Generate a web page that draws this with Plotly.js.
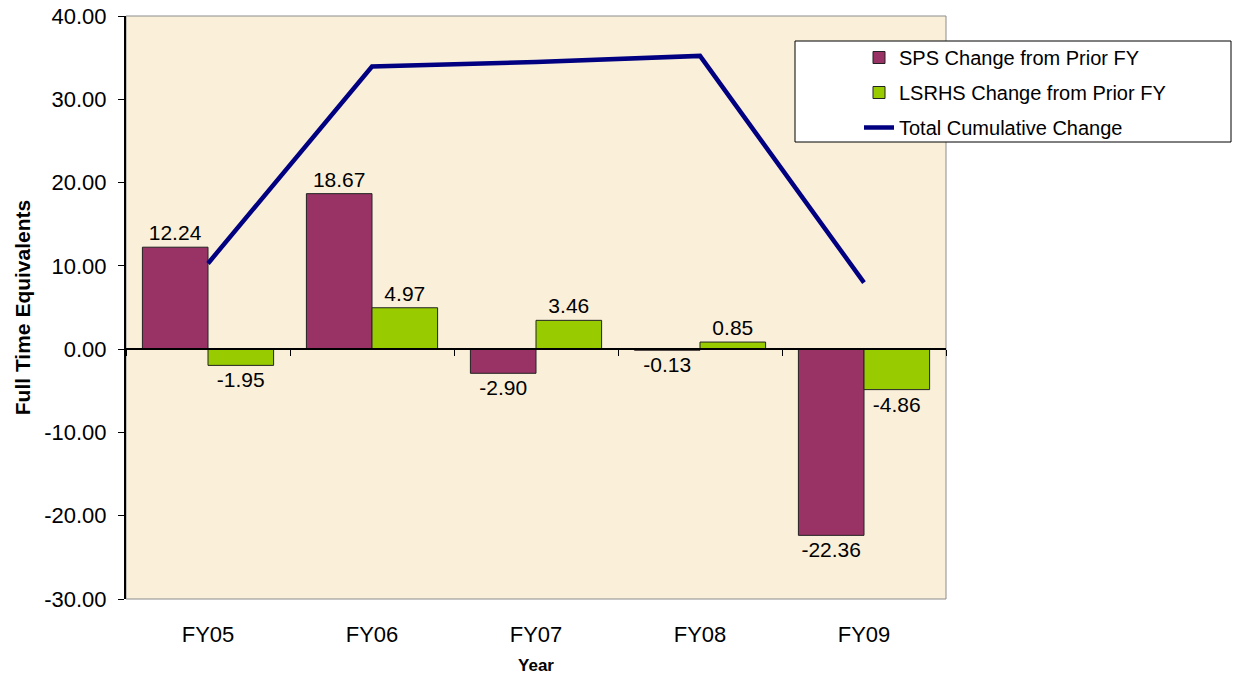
<!DOCTYPE html>
<html>
<head>
<meta charset="utf-8">
<script src="https://cdn.plot.ly/plotly-3.0.1.min.js"></script>
<style>html,body{margin:0;padding:0;background:#fff;}#chart{width:1233px;height:675px;}</style>
</head>
<body>
<div id="chart"></div>
<script>
const years = ["FY05", "FY06", "FY07", "FY08", "FY09"];
const spsChange = [12.24, 18.67, -2.90, -0.13, -22.36];
const lsrhsChange = [-1.95, 4.97, 3.46, 0.85, -4.86];
const cumulativeChange = [10.29, 33.93, 34.49, 35.21, 7.99];
const seriesNames = ["SPS Change from Prior FY", "LSRHS Change from Prior FY", "Total Cumulative Change"];
const yTickValues = [-30, -20, -10, 0, 10, 20, 30, 40];
const yTickLabels = ["-30.00", "-20.00", "-10.00", "0.00", "10.00", "20.00", "30.00", "40.00"];

const FONT = "Arial, 'Liberation Sans', sans-serif";

const traces = [
  {
    type: "bar", name: seriesNames[0], x: years, y: spsChange,
    marker: {color: "#993366", line: {color: "#222", width: 1}},
    text: spsChange.map(v => v.toFixed(2)), textposition: "outside",
    textfont: {family: FONT, size: 21, color: "#000"},
    constraintext: "none", cliponaxis: false,
    legendgroup: "a", hoverinfo: "x+y"
  },
  {
    type: "bar", name: seriesNames[1], x: years, y: lsrhsChange,
    marker: {color: "#99CC00", line: {color: "#222", width: 1}},
    text: lsrhsChange.map(v => v.toFixed(2)), textposition: "outside",
    textfont: {family: FONT, size: 21, color: "#000"},
    constraintext: "none", cliponaxis: false,
    legendgroup: "b", hoverinfo: "x+y"
  },
  {
    type: "scatter", mode: "lines", name: seriesNames[2], x: years, y: cumulativeChange,
    xaxis: "x2", yaxis: "y",
    line: {color: "#000080", width: 4.5},
    legendgroup: "c", cliponaxis: false
  }
];

const layout = {
  width: 1233, height: 675,
  margin: {l: 126, r: 287, t: 16, b: 76},
  paper_bgcolor: "#ffffff",
  plot_bgcolor: "#FAF0DA",
  font: {family: FONT, color: "#000"},
  barmode: "group",
  bargap: 0.2,
  bargroupgap: 0,
  showlegend: true,
  legend: {
    x: (859 - 126) / 820, xanchor: "left",
    y: (599 - 38) / 583, yanchor: "top",
    bgcolor: "rgba(0,0,0,0)", borderwidth: 0,
    font: {family: FONT, size: 20, color: "#000"},
    tracegroupgap: 6,
    traceorder: "grouped"
  },
  xaxis: {
    type: "category", categoryarray: years, range: [-0.5, 4.5],
    anchor: "free", position: 3 / 7,
    showline: true, linecolor: "#000", linewidth: 2,
    ticks: "outside", tickson: "boundaries", ticklen: 6, tickcolor: "#000", tickwidth: 1,
    showticklabels: false, showgrid: false, zeroline: false, fixedrange: true
  },
  xaxis2: {
    type: "category", categoryarray: years, range: [-0.5, 4.5],
    overlaying: "x", anchor: "y", side: "bottom",
    showline: false, ticks: "", showgrid: false, zeroline: false,
    tickfont: {family: FONT, size: 22, color: "#000"},
    ticklabelstandoff: 20,
    title: {text: "<b>Year</b>", font: {family: FONT, size: 17, color: "#000"}, standoff: 14},
    fixedrange: true
  },
  yaxis: {
    range: [-30, 40], tickmode: "array", tickvals: yTickValues, ticktext: yTickLabels,
    showline: true, linecolor: "#000", linewidth: 2,
    ticks: "outside", ticklen: 6, tickcolor: "#000", tickwidth: 1,
    tickfont: {family: FONT, size: 22, color: "#000"},
    ticklabelstandoff: 7,
    showgrid: false, zeroline: false,
    title: {text: "<b>Full Time Equivalents</b>", font: {family: FONT, size: 21, color: "#000"}, standoff: 8},
    fixedrange: true
  },
  shapes: [
    {type: "rect", xref: "paper", yref: "paper", x0: 0, x1: 1, y0: 0, y1: 1,
     line: {color: "#8c8c8c", width: 1}, fillcolor: "rgba(0,0,0,0)", layer: "below"},
    {type: "rect", xref: "paper", yref: "paper",
     x0: (795 - 126) / 820, x1: (1231 - 126) / 820,
     y0: (599 - 142) / 583, y1: (599 - 41) / 583,
     line: {color: "#000", width: 1}, fillcolor: "#ffffff", layer: "above"}
  ]
};

Plotly.newPlot("chart", traces, layout, {displayModeBar: false, staticPlot: true});
</script>
</body>
</html>
